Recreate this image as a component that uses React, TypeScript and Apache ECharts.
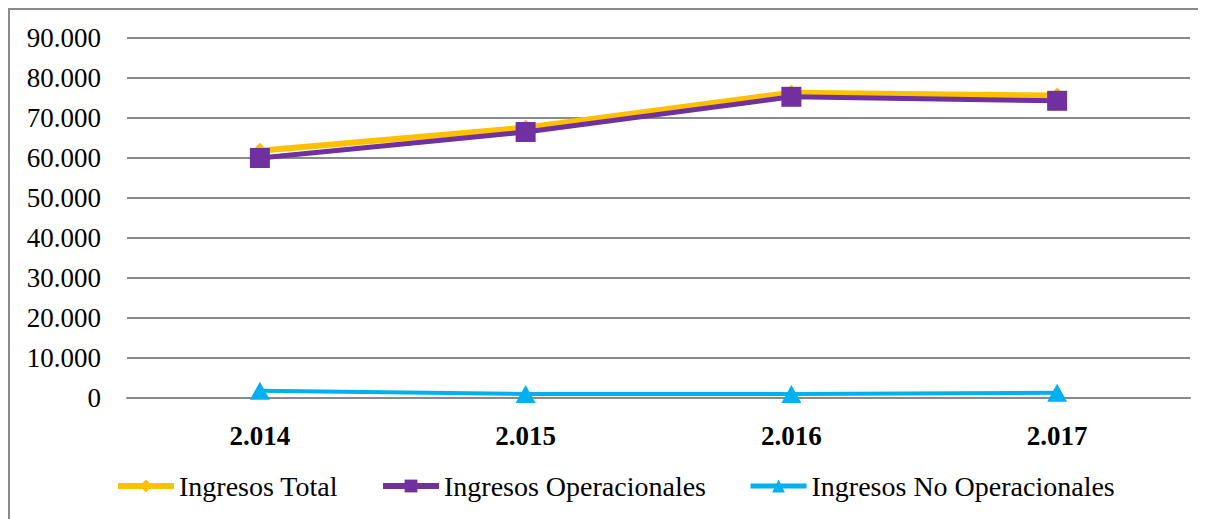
import React, { useEffect, useRef } from "react";
import * as echarts from "echarts";

const categories = ["2.014", "2.015", "2.016", "2.017"];
const ingresosTotal = [61800, 67600, 76300, 75600];
const ingresosOperacionales = [60000, 66500, 75300, 74300];
const ingresosNoOperacionales = [1800, 1000, 1000, 1300];
const yTicks = [0, 10000, 20000, 30000, 40000, 50000, 60000, 70000, 80000, 90000];

const fmt = (v: number) => (v === 0 ? "0" : (v / 1000).toFixed(0) + ".000");

export default function App() {
  const ref = useRef<HTMLDivElement>(null);
  useEffect(() => {
    if (!ref.current) return;
    const chart = echarts.init(ref.current, undefined, { renderer: "svg" });
    const font = "Liberation Serif";
    chart.setOption({
      animation: false,
      textStyle: { fontFamily: font },
      grid: { left: 117, top: 28, width: 1063, height: 360, containLabel: false },
      legend: {
        left: 105,
        top: 462,
        padding: 0,
        itemWidth: 56,
        itemHeight: 16,
        itemGap: 42,
        textStyle: { fontFamily: font, fontSize: 28, color: "#000" },
        data: [
          { name: "Ingresos Total", lineStyle: { width: 6 } },
          { name: "Ingresos Operacionales", lineStyle: { width: 6 } },
          { name: "Ingresos No Operacionales", lineStyle: { width: 5 } },
        ],
      },
      xAxis: {
        type: "category",
        data: categories,
        boundaryGap: true,
        axisLine: { show: true, lineStyle: { color: "#8a8a8a", width: 2 } },
        axisTick: { show: false },
        axisLabel: { fontFamily: font, fontSize: 27, fontWeight: "bold", color: "#000", margin: 24 },
      },
      yAxis: {
        type: "value",
        min: yTicks[0],
        max: yTicks[yTicks.length - 1],
        interval: 10000,
        axisLine: { show: false },
        axisTick: { show: false },
        splitLine: { lineStyle: { color: "#8a8a8a", width: 2 } },
        axisLabel: { fontFamily: font, fontSize: 27, color: "#000", margin: 26, formatter: fmt },
      },
      series: [
        {
          name: "Ingresos Total",
          type: "line",
          data: ingresosTotal,
          symbol: "diamond",
          symbolSize: 16,
          lineStyle: { color: "#FFC000", width: 6 },
          itemStyle: { color: "#FFC000" },
        },
        {
          name: "Ingresos Operacionales",
          type: "line",
          data: ingresosOperacionales,
          symbol: "rect",
          symbolSize: 20,
          lineStyle: { color: "#7030A0", width: 5 },
          itemStyle: { color: "#7030A0" },
        },
        {
          name: "Ingresos No Operacionales",
          type: "line",
          data: ingresosNoOperacionales,
          symbol: "triangle",
          symbolSize: [20, 18],
          lineStyle: { color: "#00B0F0", width: 4 },
          itemStyle: { color: "#00B0F0" },
        },
      ],
    });
    return () => chart.dispose();
  }, []);
  return (
    <div
      style={{
        width: 1198,
        height: 511,
        borderTop: "2px solid #8a8a8a",
        borderLeft: "2px solid #8a8a8a",
        boxSizing: "border-box",
        background: "#fff",
      }}
    >
      <div ref={ref} style={{ width: 1196, height: 509 }} />
    </div>
  );
}
